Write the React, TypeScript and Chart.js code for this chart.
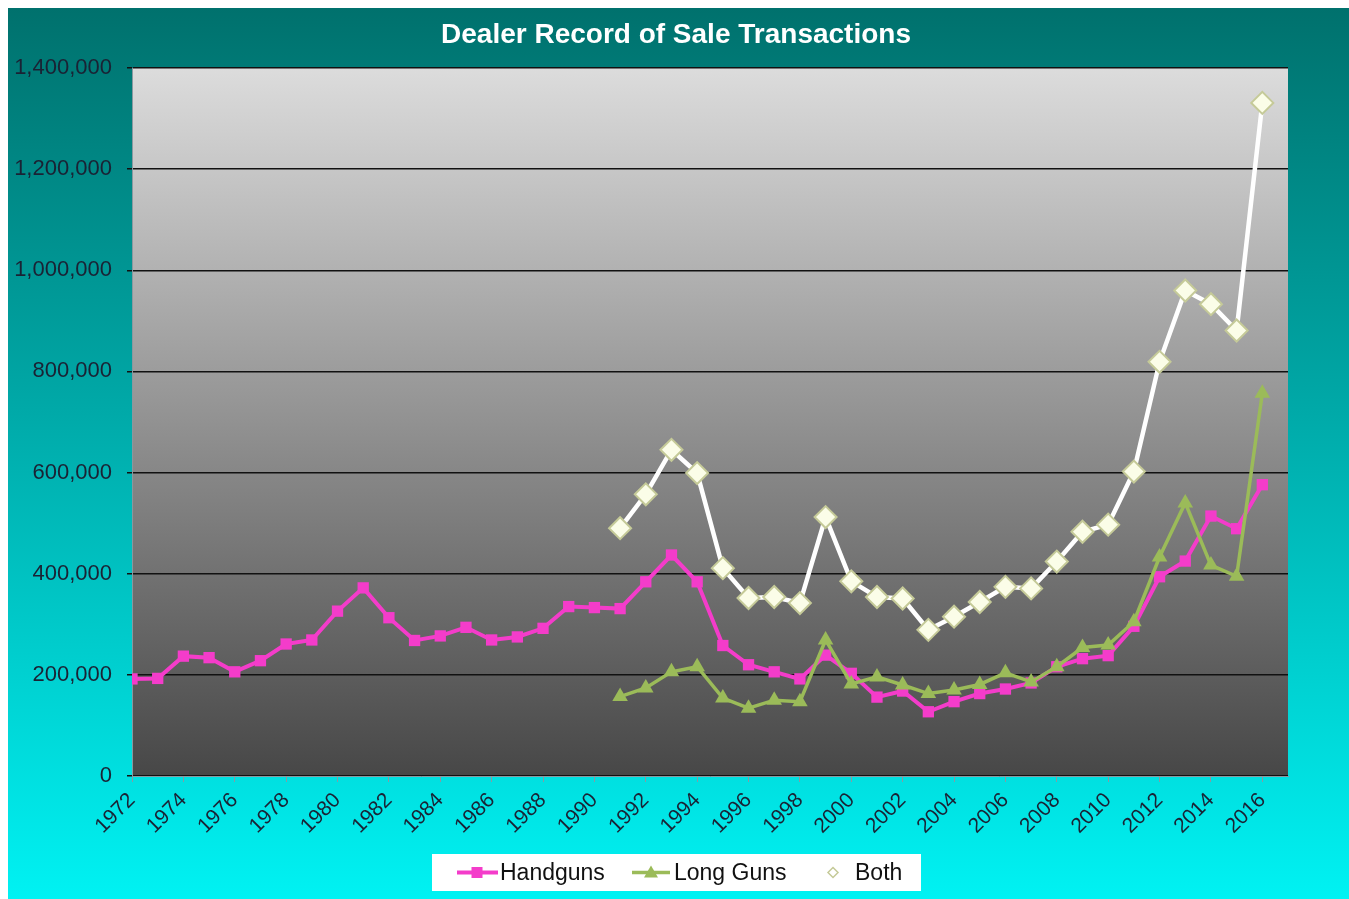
import React, { useEffect, useRef } from "react";
import { Chart, registerables } from "chart.js";

Chart.register(...registerables);

const years = [
  1972, 1973, 1974, 1975, 1976, 1977, 1978, 1979, 1980, 1981, 1982, 1983, 1984, 1985, 1986,
  1987, 1988, 1989, 1990, 1991, 1992, 1993, 1994, 1995, 1996, 1997, 1998, 1999, 2000, 2001,
  2002, 2003, 2004, 2005, 2006, 2007, 2008, 2009, 2010, 2011, 2012, 2013, 2014, 2015, 2016,
];

const handguns = [
  192000, 193000, 237000, 234000, 206000, 228000, 261000, 269000, 326000, 372000, 313000,
  268000, 277000, 294000, 269000, 275000, 292000, 335000, 333000, 331000, 384000, 437000,
  384000, 258000, 220000, 206000, 192000, 239000, 203000, 156000, 168000, 127000, 147000,
  163000, 172000, 184000, 216000, 232000, 238000, 296000, 394000, 425000, 514000, 489000,
  576000,
];

const longGuns = [
  null, null, null, null, null, null, null, null, null, null, null, null, null, null, null,
  null, null, null, null, 157000, 174000, 206000, 216000, 154000, 134000, 150000, 147000,
  269000, 182000, 196000, 180000, 163000, 170000, 181000, 204000, 186000, 216000, 254000,
  259000, 305000, 433000, 540000, 417000, 395000, 757000,
];

const both = [
  null, null, null, null, null, null, null, null, null, null, null, null, null, null, null,
  null, null, null, null, 490000, 557000, 645000, 599000, 411000, 352000, 354000, 342000,
  512000, 385000, 354000, 351000, 289000, 315000, 344000, 374000, 371000, 424000, 483000,
  497000, 602000, 819000, 960000, 933000, 881000, 1331000,
];

const seriesNames = ["Handguns", "Long Guns", "Both"];
const titleText = "Dealer Record of Sale Transactions";

const PINK = "#f43cca";
const GREEN = "#9bbb59";
const FONT = "'Liberation Sans', Arial, sans-serif";

const toPoints = (vals: (number | null)[]) =>
  years.map((y, i) => ({ x: y, y: vals[i] }));

const bgPlugin = {
  id: "bgPlugin",
  beforeDraw(chart: any) {
    const { ctx, width, height, chartArea } = chart;
    ctx.save();
    const g = ctx.createLinearGradient(0, 0, 0, height);
    g.addColorStop(0, "#00716d");
    g.addColorStop(0.45, "#00a9a8");
    g.addColorStop(1, "#00f2f3");
    ctx.fillStyle = g;
    ctx.fillRect(0, 0, width, height);
    const { left, top, right, bottom } = chartArea;
    const g2 = ctx.createLinearGradient(0, top, 0, bottom);
    g2.addColorStop(0, "#dcdcdc");
    g2.addColorStop(1, "#474747");
    ctx.fillStyle = g2;
    ctx.fillRect(left, top, right - left, bottom - top);
    ctx.restore();
  },
};

const titlePlugin = {
  id: "customTitle",
  afterDraw(chart: any) {
    const { ctx } = chart;
    ctx.save();
    ctx.font = `bold 28px ${FONT}`;
    ctx.fillStyle = "#ffffff";
    ctx.textAlign = "center";
    ctx.textBaseline = "alphabetic";
    ctx.fillText(titleText, 668, 35);
    ctx.restore();
  },
};

const legendPlugin = {
  id: "customLegend",
  afterDraw(chart: any) {
    const { ctx } = chart;
    const bx = 424;
    const by = 846;
    const bw = 489;
    const bh = 37;
    const cy = by + bh / 2;
    ctx.save();
    ctx.fillStyle = "#ffffff";
    ctx.fillRect(bx, by, bw, bh);
    ctx.font = `23px ${FONT}`;
    ctx.fillStyle = "#111111";
    ctx.textBaseline = "middle";
    ctx.textAlign = "left";

    // Handguns
    ctx.strokeStyle = PINK;
    ctx.lineWidth = 4;
    ctx.beginPath();
    ctx.moveTo(bx + 25, cy);
    ctx.lineTo(bx + 66, cy);
    ctx.stroke();
    ctx.fillStyle = PINK;
    ctx.fillRect(bx + 45 - 5.5, cy - 5.5, 11, 11);
    ctx.fillStyle = "#111111";
    ctx.fillText(seriesNames[0], bx + 68, cy + 1);

    // Long Guns
    ctx.strokeStyle = GREEN;
    ctx.lineWidth = 3.5;
    ctx.beginPath();
    ctx.moveTo(bx + 200, cy);
    ctx.lineTo(bx + 238, cy);
    ctx.stroke();
    ctx.fillStyle = GREEN;
    ctx.beginPath();
    ctx.moveTo(bx + 219, cy - 7);
    ctx.lineTo(bx + 226, cy + 5);
    ctx.lineTo(bx + 212, cy + 5);
    ctx.closePath();
    ctx.fill();
    ctx.fillStyle = "#111111";
    ctx.fillText(seriesNames[1], bx + 242, cy + 1);

    // Both
    ctx.strokeStyle = "#c5ca98";
    ctx.lineWidth = 1.5;
    ctx.beginPath();
    ctx.moveTo(bx + 401, cy - 5);
    ctx.lineTo(bx + 406, cy);
    ctx.lineTo(bx + 401, cy + 5);
    ctx.lineTo(bx + 396, cy);
    ctx.closePath();
    ctx.stroke();
    ctx.fillStyle = "#111111";
    ctx.fillText(seriesNames[2], bx + 423, cy + 1);
    ctx.restore();
  },
};

export default function App() {
  const ref = useRef<HTMLCanvasElement | null>(null);

  useEffect(() => {
    if (!ref.current) return;
    const chart = new Chart(ref.current, {
      type: "line",
      data: {
        datasets: [
          {
            label: seriesNames[0],
            data: toPoints(handguns),
            borderColor: PINK,
            backgroundColor: PINK,
            borderWidth: 4,
            pointStyle: "rect",
            pointRadius: 8,
            pointBorderWidth: 0,
            pointBackgroundColor: PINK,
            tension: 0,
            order: 3,
          },
          {
            label: seriesNames[1],
            data: toPoints(longGuns),
            borderColor: GREEN,
            backgroundColor: GREEN,
            borderWidth: 3.5,
            pointStyle: "triangle",
            pointRadius: 9,
            pointBorderWidth: 0,
            pointBackgroundColor: GREEN,
            tension: 0,
            order: 2,
          },
          {
            label: seriesNames[2],
            data: toPoints(both),
            borderColor: "#ffffff",
            backgroundColor: "#fbfde8",
            borderWidth: 4.5,
            pointStyle: "rectRot",
            pointRadius: 11,
            pointBorderWidth: 2,
            pointBackgroundColor: "#fbfde8",
            pointBorderColor: "#c5ca98",
            tension: 0,
            order: 1,
          },
        ],
      },
      options: {
        animation: false,
        responsive: false,
        devicePixelRatio: 1,
        layout: { padding: { top: 60, right: 61, bottom: 0, left: 0 } },
        font: { family: FONT },
        plugins: {
          legend: { display: false },
          tooltip: { enabled: false },
          title: { display: false },
        },
        scales: {
          x: {
            type: "linear",
            min: 1972,
            max: 2017,
            afterFit: (scale: any) => {
              scale.height = 123;
            },
            ticks: {
              stepSize: 2,
              includeBounds: false,
              autoSkip: false,
              maxRotation: 45,
              minRotation: 45,
              padding: 6,
              color: "#1a2234",
              font: { family: FONT, size: 21 },
              callback: (v: any) => String(v),
            },
            grid: {
              display: true,
              drawOnChartArea: false,
              drawTicks: true,
              tickLength: 6,
              color: "#8a98a0",
            },
            border: { display: true, color: "#8a98a0", width: 1 },
          },
          y: {
            type: "linear",
            min: 0,
            max: 1400000,
            afterFit: (scale: any) => {
              scale.width = 124;
            },
            ticks: {
              stepSize: 200000,
              padding: 15,
              color: "#1a2234",
              font: { family: FONT, size: 22 },
              callback: (v: any) => Number(v).toLocaleString("en-US"),
            },
            grid: {
              color: "#111111",
              lineWidth: 1.5,
              tickLength: 5,
              drawTicks: true,
            },
            border: { display: true, color: "#8a98a0", width: 1 },
          },
        },
      },
      plugins: [bgPlugin, titlePlugin, legendPlugin],
    });
    return () => chart.destroy();
  }, []);

  return (
    <div style={{ position: "fixed", left: 8, top: 8, width: 1341, height: 891 }}>
      <canvas ref={ref} width={1341} height={891} style={{ display: "block" }} />
    </div>
  );
}
